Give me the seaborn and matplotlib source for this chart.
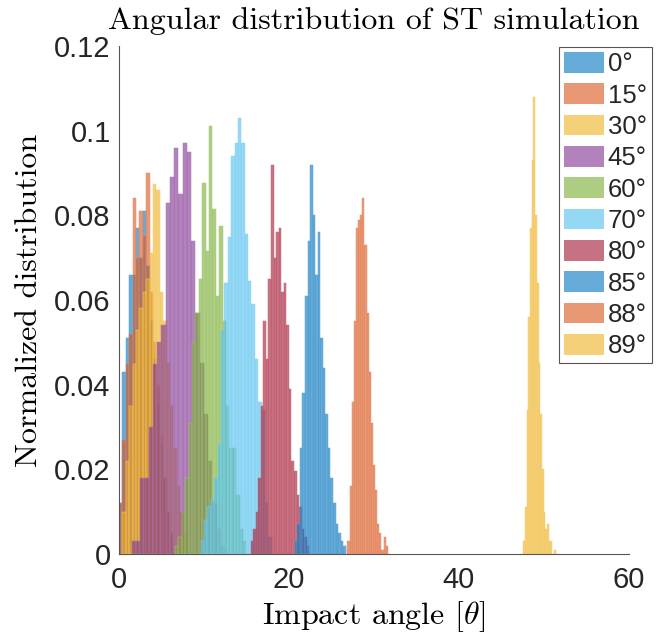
import numpy as np
import pandas as pd
import matplotlib
matplotlib.use("Agg")
import matplotlib.pyplot as plt
import matplotlib.colors as mcolors
import seaborn as sns
from matplotlib.patches import Patch

# ---------------- data ----------------
series_labels = ["0°", "15°", "30°", "45°", "60°", "70°", "80°", "85°", "88°", "89°"]

# left edge of first bin and bin width (degrees) for each series
bin_start = [0.0, 0.0, 0.4, 1.5, 6.6, 9.6, 15.5, 20.7, 26.9, 47.6]
bin_width = [0.4, 0.4, 0.4, 0.5, 0.4, 0.4, 0.3, 0.3, 0.25, 0.2]

h_0 = [0.012, 0.043, 0.051, 0.066, 0.066, 0.077, 0.070, 0.081, 0.068, 0.055,
       0.046, 0.035, 0.026, 0.018, 0.010, 0.005]
h_15 = [0.012, 0.027, 0.045, 0.052, 0.084, 0.070, 0.081, 0.075, 0.090, 0.062,
        0.050, 0.040, 0.028, 0.018, 0.010, 0.004]
h_30 = [0.010, 0.022, 0.035, 0.045, 0.053, 0.058, 0.062, 0.065, 0.071, 0.0875,
        0.086, 0.062, 0.055, 0.045, 0.035, 0.025, 0.016, 0.010, 0.005]
h_45 = [0.003, 0.003, 0.018, 0.018, 0.030, 0.045, 0.050, 0.054, 0.083, 0.089,
        0.096, 0.085, 0.097, 0.095, 0.074, 0.057, 0.045, 0.033, 0.022, 0.012,
        0.006, 0.002]
h_60 = [0.002, 0.004, 0.010, 0.018, 0.031, 0.050, 0.057, 0.065, 0.0877, 0.0716,
        0.101, 0.0815, 0.061, 0.0774, 0.055, 0.035, 0.025, 0.025, 0.014, 0.006,
        0.003]
h_70 = [0.003, 0.008, 0.011, 0.013, 0.018, 0.026, 0.053, 0.064, 0.0748, 0.094,
        0.097, 0.103, 0.097, 0.0755, 0.0644, 0.059, 0.046, 0.036, 0.034, 0.012,
        0.004]
h_80 = [0.003, 0.006, 0.010, 0.018, 0.035, 0.055, 0.046, 0.065, 0.092, 0.070,
        0.076, 0.077, 0.062, 0.064, 0.054, 0.039, 0.022, 0.0195, 0.014, 0.011,
        0.006, 0.004, 0.002]
h_85 = [0.003, 0.007, 0.025, 0.038, 0.061, 0.074, 0.092, 0.080, 0.066, 0.076,
        0.051, 0.044, 0.033, 0.025, 0.018, 0.012, 0.007, 0.005, 0.003, 0.002]
h_88 = [0.003, 0.016, 0.036, 0.055, 0.077, 0.079, 0.080, 0.084, 0.073, 0.057,
        0.043, 0.031, 0.021, 0.015, 0.007, 0.005, 0.001, 0.004, 0.002]
h_89 = [0.003, 0.011, 0.034, 0.056, 0.077, 0.093, 0.108, 0.080, 0.064, 0.045,
        0.033, 0.020, 0.010, 0.006, 0.007, 0.003, 0.003, 0.0, 0.001]

heights = [h_0, h_15, h_30, h_45, h_60, h_70, h_80, h_85, h_88, h_89]

xticks = [0, 20, 40, 60]
yticks = [0, 0.02, 0.04, 0.06, 0.08, 0.1, 0.12]
ytick_labels = ["0", "0.02", "0.04", "0.06", "0.08", "0.1", "0.12"]

# ---------------- style ----------------
base_colors = ["#0072BD", "#D95319", "#EDB120", "#7E2F8E", "#77AC30",
               "#4DBEEE", "#A2142F", "#0072BD", "#D95319", "#EDB120"]
face_alpha = 0.6


def tint(c, f=0.35):
    r, g, b = mcolors.to_rgb(c)
    return (r + (1 - r) * f, g + (1 - g) * f, b + (1 - b) * f)


sns.set_theme(style="white")
plt.rcParams["font.family"] = ["Liberation Sans", "DejaVu Sans"]
plt.rcParams["mathtext.fontset"] = "cm"
plt.rcParams["axes.unicode_minus"] = False

fig = plt.figure(figsize=(6.65, 6.39), dpi=100)
ax = fig.add_axes([119 / 665, 1 - 554 / 639, (628.6 - 119) / 665, (554 - 46) / 639])

for h, s, w, c in zip(heights, bin_start, bin_width, base_colors):
    edges = s + w * np.arange(len(h) + 1)
    df = pd.DataFrame({"angle": edges[:-1] + w / 2, "prob": h})
    sns.histplot(data=df, x="angle", weights="prob", bins=edges.tolist(),
                 stat="count", common_bins=False, color=c, alpha=face_alpha,
                 edgecolor=tint(c), linewidth=0.35, ax=ax)

ax.set_xlim(0, 60)
ax.set_ylim(0, 0.12)
ax.set_xticks(xticks)
ax.set_xticklabels([str(t) for t in xticks])
ax.set_yticks(yticks)
ax.set_yticklabels(ytick_labels)
ax.tick_params(axis="both", direction="in", length=5, width=0.8,
               color="#555555", labelsize=21, labelcolor="#262626")
ax.tick_params(axis="x", pad=9)
ax.tick_params(axis="y", pad=6)
for side in ["top", "right"]:
    ax.spines[side].set_visible(False)
for side in ["left", "bottom"]:
    ax.spines[side].set_color("#555555")
    ax.spines[side].set_linewidth(0.8)

ax.set_title("Angular distribution of ST simulation", fontfamily="cmr10",
             fontsize=23, pad=12, color="black")
ax.set_xlabel(r"Impact angle $[\theta]$", fontfamily="cmr10", fontsize=23,
              labelpad=3, color="black")
ax.set_ylabel("Normalized distribution", fontfamily="cmr10", fontsize=23,
              labelpad=8, color="black")

handles = [Patch(facecolor=c, alpha=face_alpha, edgecolor="none") for c in base_colors]
leg = fig.legend(handles, series_labels, loc="upper left",
                 bbox_to_anchor=(559 / 665, 1 - 47 / 639),
                 bbox_transform=fig.transFigure, frameon=True, fancybox=False,
                 fontsize=18.5, handlelength=1.55, handleheight=0.85,
                 handletextpad=0.15, labelspacing=0.28, borderpad=0.2,
                 borderaxespad=0.0)
leg.get_frame().set_edgecolor("#555555")
leg.get_frame().set_linewidth(0.8)
leg.get_frame().set_alpha(1)

fig.savefig("out.png", dpi=100)
